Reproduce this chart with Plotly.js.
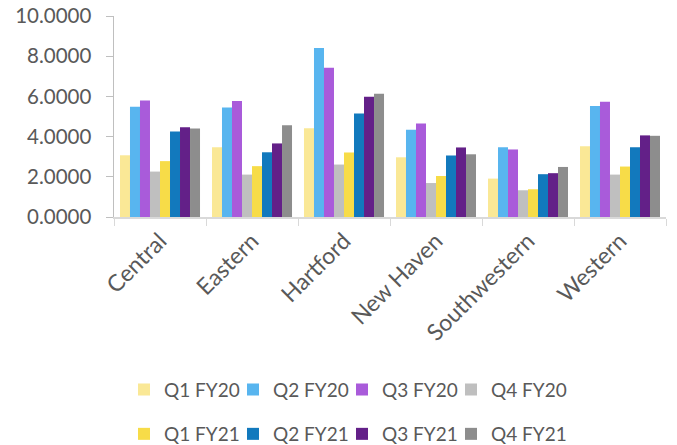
<!DOCTYPE html>
<html><head><meta charset="utf-8">
<script src="https://cdn.plot.ly/plotly-3.0.1.min.js"></script>
<style>html,body{margin:0;padding:0;background:#fff}#c{width:677px;height:445px}</style>
</head><body><div id="c"></div>
<script>
var regions = ["Central","Eastern","Hartford","New Haven","Southwestern","Western"];
var seriesNames = ["Q1 FY20","Q2 FY20","Q3 FY20","Q4 FY20","Q1 FY21","Q2 FY21","Q3 FY21","Q4 FY21"];
var q1fy20 = [3.07, 3.47, 4.42, 2.97, 1.91, 3.52];
var q2fy20 = [5.48, 5.45, 8.41, 4.34, 3.47, 5.52];
var q3fy20 = [5.80, 5.77, 7.43, 4.65, 3.36, 5.73];
var q4fy20 = [2.26, 2.11, 2.61, 1.69, 1.33, 2.11];
var q1fy21 = [2.78, 2.53, 3.21, 2.04, 1.38, 2.51];
var q2fy21 = [4.25, 3.22, 5.15, 3.06, 2.13, 3.47];
var q3fy21 = [4.47, 3.66, 5.98, 3.46, 2.18, 4.06];
var q4fy21 = [4.40, 4.57, 6.13, 3.12, 2.49, 4.04];
var colors = ["#FAE896","#58B5EF","#A95BDA","#BFBFBF","#F7DC48","#1279BD","#632088","#8D8D8D"];
var allVals = [q1fy20,q2fy20,q3fy20,q4fy20,q1fy21,q2fy21,q3fy21,q4fy21];

var lfnt = {family:"Lato, 'Open Sans', sans-serif", size:19, color:"#595959"};
var traces = allVals.map(function(v,i){
  return {type:"bar", name:seriesNames[i], x:regions, y:v,
    marker:{color:colors[i], line:{width:0}},
    legend: i===0 ? "legend" : "legend"+(i+1),
    hoverinfo:"skip"};
});
var yfnt = {family:"Lato, 'Open Sans', sans-serif", size:20.5, color:"#595959"};
var xfnt = {family:"Lato, 'Open Sans', sans-serif", size:23, color:"#595959"};
var layout = {
  width:677, height:445,
  margin:{l:114, r:11, t:16, b:228},
  paper_bgcolor:"#fff", plot_bgcolor:"#fff",
  barmode:"group", bargap:0.13, bargroupgap:0,
  font:lfnt,
  xaxis:{type:"category", tickangle:-45, showgrid:false, showline:true, linecolor:"#D9D9D9", linewidth:1.5,
    ticks:"outside", tickson:"boundaries", ticklen:7, tickcolor:"#D9D9D9", tickfont:xfnt, automargin:false},
  yaxis:{range:[0,10], dtick:2, tickformat:".4f", showgrid:false, zeroline:false, showline:true,
    linecolor:"#BFBFBF", linewidth:1.5, ticks:"outside", ticklen:7, tickcolor:"#BFBFBF", tickfont:yfnt,
    ticklabelstandoff:10, automargin:false},
  showlegend:true
};
var legX = [124, 233, 342, 451];
var legY = [389.7, 434];
for (var i=0;i<8;i++){
  var key = i===0 ? "legend" : "legend"+(i+1);
  layout[key] = {orientation:"h", xref:"container", yref:"container",
    x: legX[i%4]/677, xanchor:"left", y: 1 - legY[Math.floor(i/4)]/445, yanchor:"middle",
    font:lfnt, bgcolor:"rgba(0,0,0,0)", borderwidth:0, itemclick:false};
}
Plotly.newPlot("c", traces, layout, {displayModeBar:false, staticPlot:true});
</script></body></html>
